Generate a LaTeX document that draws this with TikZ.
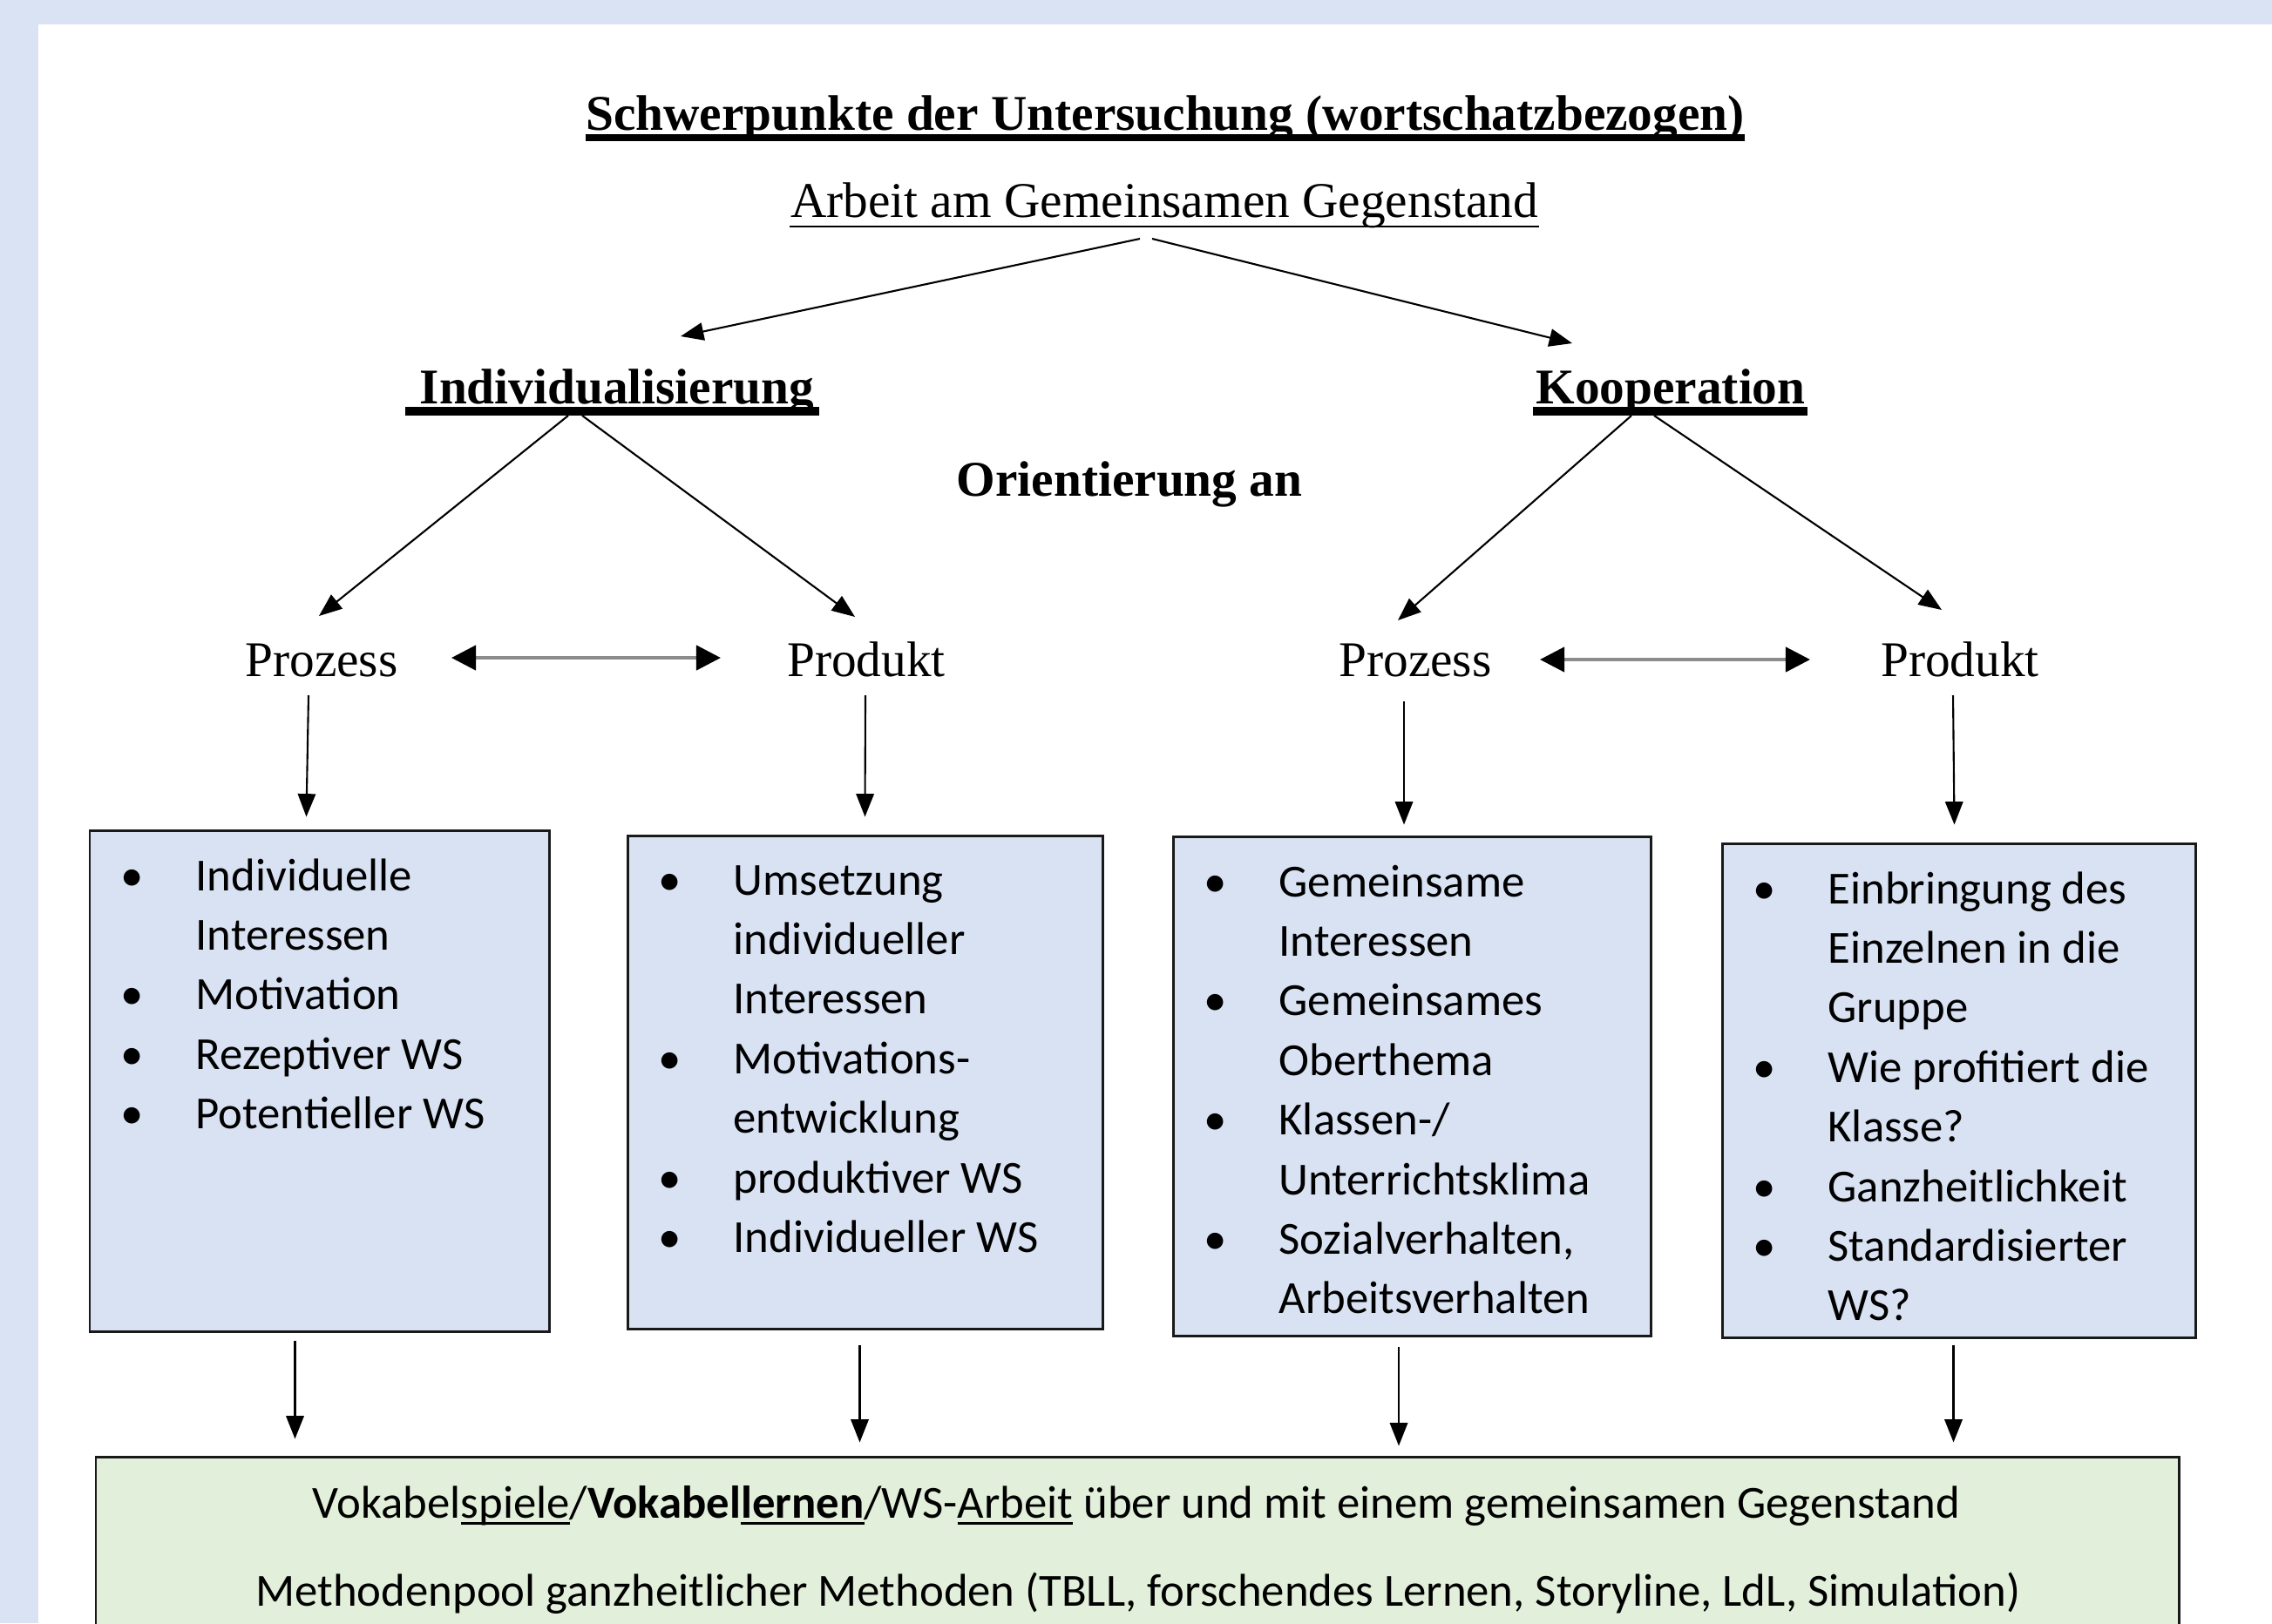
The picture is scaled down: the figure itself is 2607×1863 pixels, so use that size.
\documentclass[tikz,border=0pt]{standalone}
\usepackage{fontspec}
\setmainfont{Liberation Serif}
\newfontfamily\calfont{Carlito}
\usetikzlibrary{arrows.meta,calc,fit}
\definecolor{bgblue}{HTML}{DAE3F3}
\definecolor{boxblue}{HTML}{D9E2F3}
\definecolor{boxgreen}{HTML}{E2EFDA}
\newlength\ulwd
\newcommand\myul[1]{\settowidth{\ulwd}{#1}\rlap{\rule[-2.3pt]{\ulwd}{0.8pt}}#1}
\newcommand\bitem[1]{\par\noindent\makebox[24.4pt][l]{\textbullet}#1}
\newcommand\bcont[1]{\par\noindent\hspace*{24.4pt}#1}
\newcommand\boxtext[1]{\parbox[t]{170pt}{\fontsize{15}{19.45}\selectfont\calfont #1}}
\begin{document}
\begin{tikzpicture}[x=0.01cm,y=-0.01cm,
  hd/.style={inner sep=0,anchor=base,font=\fontsize{16.3}{19.5}\selectfont},
  hdb/.style={inner sep=0,anchor=base,font=\fontsize{16.3}{19.5}\selectfont\bfseries},
  bx/.style={draw=black!90,line width=0.85pt,fill=boxblue,inner sep=0},
  txt/.style={inner sep=0,anchor=base west},
  btm/.style={inner sep=0,anchor=base,font=\fontsize{15}{18}\selectfont\calfont},
  arr/.style={line width=0.6pt,-{Triangle[length=7.5pt,width=5.8pt]}},
  darr/.style={draw=black!45,line width=1.2pt,{Triangle[length=8pt,width=8pt,color=black]}-{Triangle[length=8pt,width=8pt,color=black]}}
]
\useasboundingbox (0,0) rectangle (2607,1863);
\clip (0,0) rectangle (2607,1863);
\fill[bgblue] (0,0) rectangle (2607,1863);
\fill[white] (44,28) rectangle (2607,1863);

% headings
\node[hdb] (title) at (1337,149) {Schwerpunkte der Untersuchung (wortschatzbezogen)};
\draw[line width=2.1pt] ([yshift=-2.6pt]title.base west) -- ([yshift=-2.6pt]title.base east);
\node[hd] (arb) at (1336,249) {Arbeit am Gemeinsamen Gegenstand};
\draw[line width=0.8pt] ([yshift=-3.1pt]arb.base west) -- ([yshift=-3.1pt]arb.base east);
\node[hdb] (ind) at (708,463) {Individualisierung};
\draw[line width=2.8pt] ([xshift=-4.5pt,yshift=-2.6pt]ind.base west) -- ([xshift=1.4pt,yshift=-2.6pt]ind.base east);
\node[hdb] (koo) at (1917,463) {Kooperation};
\draw[line width=2.8pt] ([xshift=-0.8pt,yshift=-2.6pt]koo.base west) -- ([xshift=0.6pt,yshift=-2.6pt]koo.base east);
\node[hdb] (ori) at (1296,569) {Orientierung an};

\node[hd] (pzl) at (369,776) {Prozess};
\node[hd] (pdl) at (994,776) {Produkt};
\node[hd] (pzr) at (1624,776) {Prozess};
\node[hd] (pdr) at (2249,776) {Produkt};

% boxes
\node[bx,fit={(103,953) (630,1528)}] (B1) {};
\node[bx,fit={(720,959) (1265,1525)}] (B2) {};
\node[bx,fit={(1346,960) (1894,1533)}] (B3) {};
\node[bx,fit={(1976,968) (2519,1535)}] (B4) {};
\node[bx,fill=boxgreen,fit={(110,1672) (2500,1900)}] (BB) {};

\node[txt] (t1) at (138,1022) {\boxtext{%
\bitem{Individuelle}\bcont{Interessen}\bitem{Motivation}\bitem{Rezeptiver WS}\bitem{Potentieller WS}}};
\node[txt] (t2) at (755,1027) {\boxtext{%
\bitem{Umsetzung}\bcont{individueller}\bcont{Interessen}\bitem{Motivations-}\bcont{entwicklung}\bitem{produktiver WS}\bitem{Individueller WS}}};
\node[txt] (t3) at (1381,1029) {\boxtext{%
\bitem{Gemeinsame}\bcont{Interessen}\bitem{Gemeinsames}\bcont{Oberthema}\bitem{Klassen-/}\bcont{Unterrichtsklima}\bitem{Sozialverhalten,}\bcont{Arbeitsverhalten}}};
\node[txt] (t4) at (2011,1037) {\boxtext{%
\bitem{Einbringung des}\bcont{Einzelnen in die}\bcont{Gruppe}\bitem{Wie profitiert die}\bcont{Klasse?}\bitem{Ganzheitlichkeit}\bitem{Standardisierter}\bcont{WS?}}};

\node[btm] (l1) at (1304,1742) {Vokabel\myul{spiele}/\textbf{Vokabel\myul{lernen}}/WS-\myul{Arbeit} über und mit einem gemeinsamen Gegenstand};
\node[btm] (l2) at (1306,1843) {Methodenpool ganzheitlicher Methoden (TBLL, forschendes Lernen, Storyline, LdL, Simulation)};

% connectors top
\draw[arr] ($(arb.base)+(-28,25)$) -- ($(ind.base)+(73,-77)$);
\draw[arr] ($(arb.base)+(-14,25)$) -- ($(koo.base)+(-113,-69)$);
\draw[arr] ($(ind.base)+(-56,14)$) -- ($(pzl.base)+(-3,-69)$);
\draw[arr] ($(ind.base)+(-40,14)$) -- ($(pdl.base)+(-13,-68)$);
\draw[arr] ($(koo.base)+(-45,14)$) -- ($(pzr.base)+(-20,-64)$);
\draw[arr] ($(koo.base)+(-19,14)$) -- ($(pdr.base)+(-21,-76)$);

\draw[darr] ($(pzl.base)+(149,-21)$) -- ($(pdl.base)+(-167,-21)$);
\draw[darr] ($(pzr.base)+(143,-19)$) -- ($(pdr.base)+(-172,-19)$);

\draw[arr] ($(pzl.base)+(-15,22)$) -- ($(B1.north)+(-15,-14)$);
\draw[arr] ($(pdl.base)+(-1,22)$) -- ($(B2.north)+(0,-20)$);
\draw[arr] ($(pzr.base)+(-13,29)$) -- ($(B3.north)+(-9,-12)$);
\draw[arr] ($(pdr.base)+(-8,22)$) -- ($(B4.north)+(-5,-20)$);

% connectors bottom
\draw[arr] ($(B1.south)+(-28,9)$) -- ($(B1.south |- BB.north)+(-28,-19)$);
\draw[arr] ($(B2.south)+(-6,17)$) -- ($(B2.south |- BB.north)+(-6,-15)$);
\draw[arr] ($(B3.south)+(-15,11)$) -- ($(B3.south |- BB.north)+(-15,-11)$);
\draw[arr] ($(B4.south)+(-6,7)$) -- ($(B4.south |- BB.north)+(-6,-15)$);
\end{tikzpicture}
\end{document}
